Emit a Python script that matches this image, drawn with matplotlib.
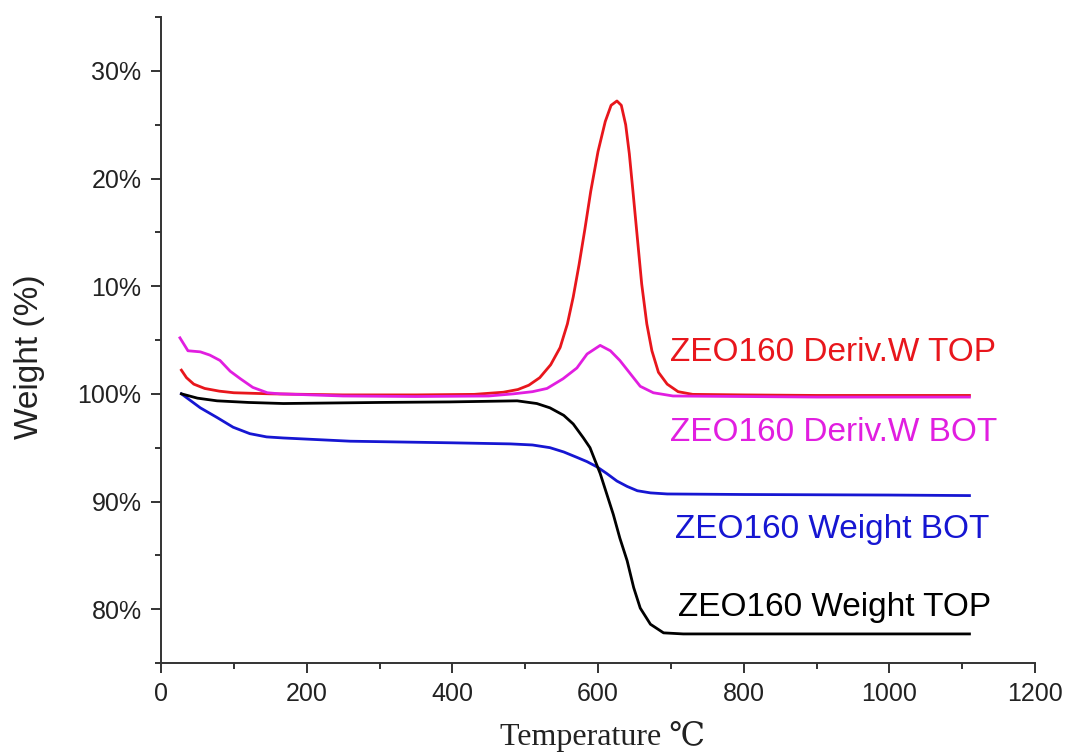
import matplotlib
matplotlib.use('Agg')
import matplotlib.pyplot as plt
from matplotlib.ticker import FixedLocator, MultipleLocator, FixedFormatter

# values on one shared axis: 80..100 = weight %, 110..130 = derivative 10..30 %
temp_deriv_top = [28, 35, 45, 60, 80, 100, 150, 250, 350, 430, 470, 490, 505, 520,
                  535, 548, 558, 566, 574, 582, 590, 600, 610, 618, 626, 632, 638,
                  643, 648, 654, 660, 667, 674, 683, 695, 710, 730, 800, 900, 1000, 1110]
deriv_top = [102.2, 101.5, 100.9, 100.5, 100.25, 100.1, 100.0, 99.9, 99.9, 99.95, 100.15,
             100.4, 100.8, 101.5, 102.7, 104.3, 106.5, 109.0, 112.0, 115.3, 118.8, 122.5,
             125.3, 126.8, 127.2, 126.8, 125.0, 122.3, 118.8, 114.5, 110.2, 106.5, 104.0,
             102.0, 100.9, 100.2, 99.95, 99.9, 99.85, 99.85, 99.85]

temp_deriv_bot = [26, 37, 54, 67, 81, 95, 109, 126, 146, 163, 250, 350, 450, 484, 510,
                  530, 552, 571, 585, 603, 617, 630, 644, 658, 676, 703, 800, 900, 1000, 1110]
deriv_bot = [105.2, 104.0, 103.9, 103.6, 103.1, 102.1, 101.4, 100.6, 100.1, 100.0, 99.8,
             99.75, 99.8, 100.0, 100.2, 100.5, 101.4, 102.4, 103.7, 104.5, 104.0, 103.1,
             101.9, 100.7, 100.1, 99.8, 99.75, 99.7, 99.7, 99.7]

temp_weight_bot = [28, 40, 54, 77, 99, 122, 145, 168, 260, 400, 480, 510, 534, 553, 571,
                   585, 599, 612, 626, 640, 654, 672, 695, 800, 1000, 1110]
weight_bot = [100.0, 99.4, 98.7, 97.8, 96.9, 96.3, 96.0, 95.9, 95.6, 95.45, 95.35, 95.25,
              95.0, 94.6, 94.1, 93.7, 93.2, 92.6, 91.9, 91.4, 91.0, 90.8, 90.7, 90.65,
              90.6, 90.55]

temp_weight_top = [28, 50, 77, 120, 168, 300, 397, 489, 516, 534, 553, 566, 580, 589, 603,
                   612, 621, 630, 640, 649, 658, 672, 690, 717, 800, 1000, 1110]
weight_top = [100.0, 99.6, 99.35, 99.2, 99.1, 99.2, 99.25, 99.35, 99.1, 98.7, 98.0, 97.2,
              95.9, 95.0, 92.6, 90.7, 88.8, 86.6, 84.5, 82.0, 80.1, 78.6, 77.8, 77.7,
              77.7, 77.7, 77.7]

y_ticks = [80, 90, 100, 110, 120, 130]
y_tick_labels = ['80%', '90%', '100%', '10%', '20%', '30%']
x_ticks = [0, 200, 400, 600, 800, 1000, 1200]

series = [
    (temp_deriv_top, deriv_top, '#e8161c', 'ZEO160 Deriv.W TOP', 699, 103.8),
    (temp_deriv_bot, deriv_bot, '#e11ee0', 'ZEO160 Deriv.W BOT', 699, 96.4),
    (temp_weight_bot, weight_bot, '#1616d2', 'ZEO160 Weight BOT', 706, 87.4),
    (temp_weight_top, weight_top, '#000000', 'ZEO160 Weight TOP', 710, 80.2),
]

plt.rcParams['font.family'] = ['Liberation Sans', 'DejaVu Sans']

fig = plt.figure(figsize=(10.68, 7.56), dpi=100)
ax = fig.add_axes([161 / 1068, 1 - 663 / 756, (1035 - 161) / 1068, (663 - 17) / 756])

for tx, ty, color, label, lx, ly in series:
    ax.plot(tx, ty, color=color, lw=2.0)
    ax.text(lx, ly, label, color=color, fontsize=24, va='center', ha='left')

ax.set_xlim(0, 1200)
ax.set_ylim(75, 135)
ax.xaxis.set_major_locator(FixedLocator(x_ticks))
ax.xaxis.set_minor_locator(MultipleLocator(100))
ax.yaxis.set_major_locator(FixedLocator(y_ticks))
ax.yaxis.set_major_formatter(FixedFormatter(y_tick_labels))
ax.yaxis.set_minor_locator(MultipleLocator(5))

for side in ['top', 'right']:
    ax.spines[side].set_visible(False)
for side in ['left', 'bottom']:
    ax.spines[side].set_linewidth(1.4)
    ax.spines[side].set_color('#333333')

ax.tick_params(which='major', direction='out', length=7, width=1.4, labelsize=18,
               colors='#333333', labelcolor='#222222', pad=7)
ax.tick_params(which='minor', direction='out', length=4, width=1.4, colors='#333333')

fig.text(30 / 1068, 1 - 357 / 756, 'Weight (%)', rotation=90, fontsize=24,
         ha='center', va='center', color='#222222')
fig.text(602 / 1068, 1 - 737 / 756, 'Temperature ℃', fontsize=23,
         family=['Liberation Serif', 'DejaVu Serif'], ha='center', va='center',
         color='#222222')

fig.savefig('out.png', dpi=100)
